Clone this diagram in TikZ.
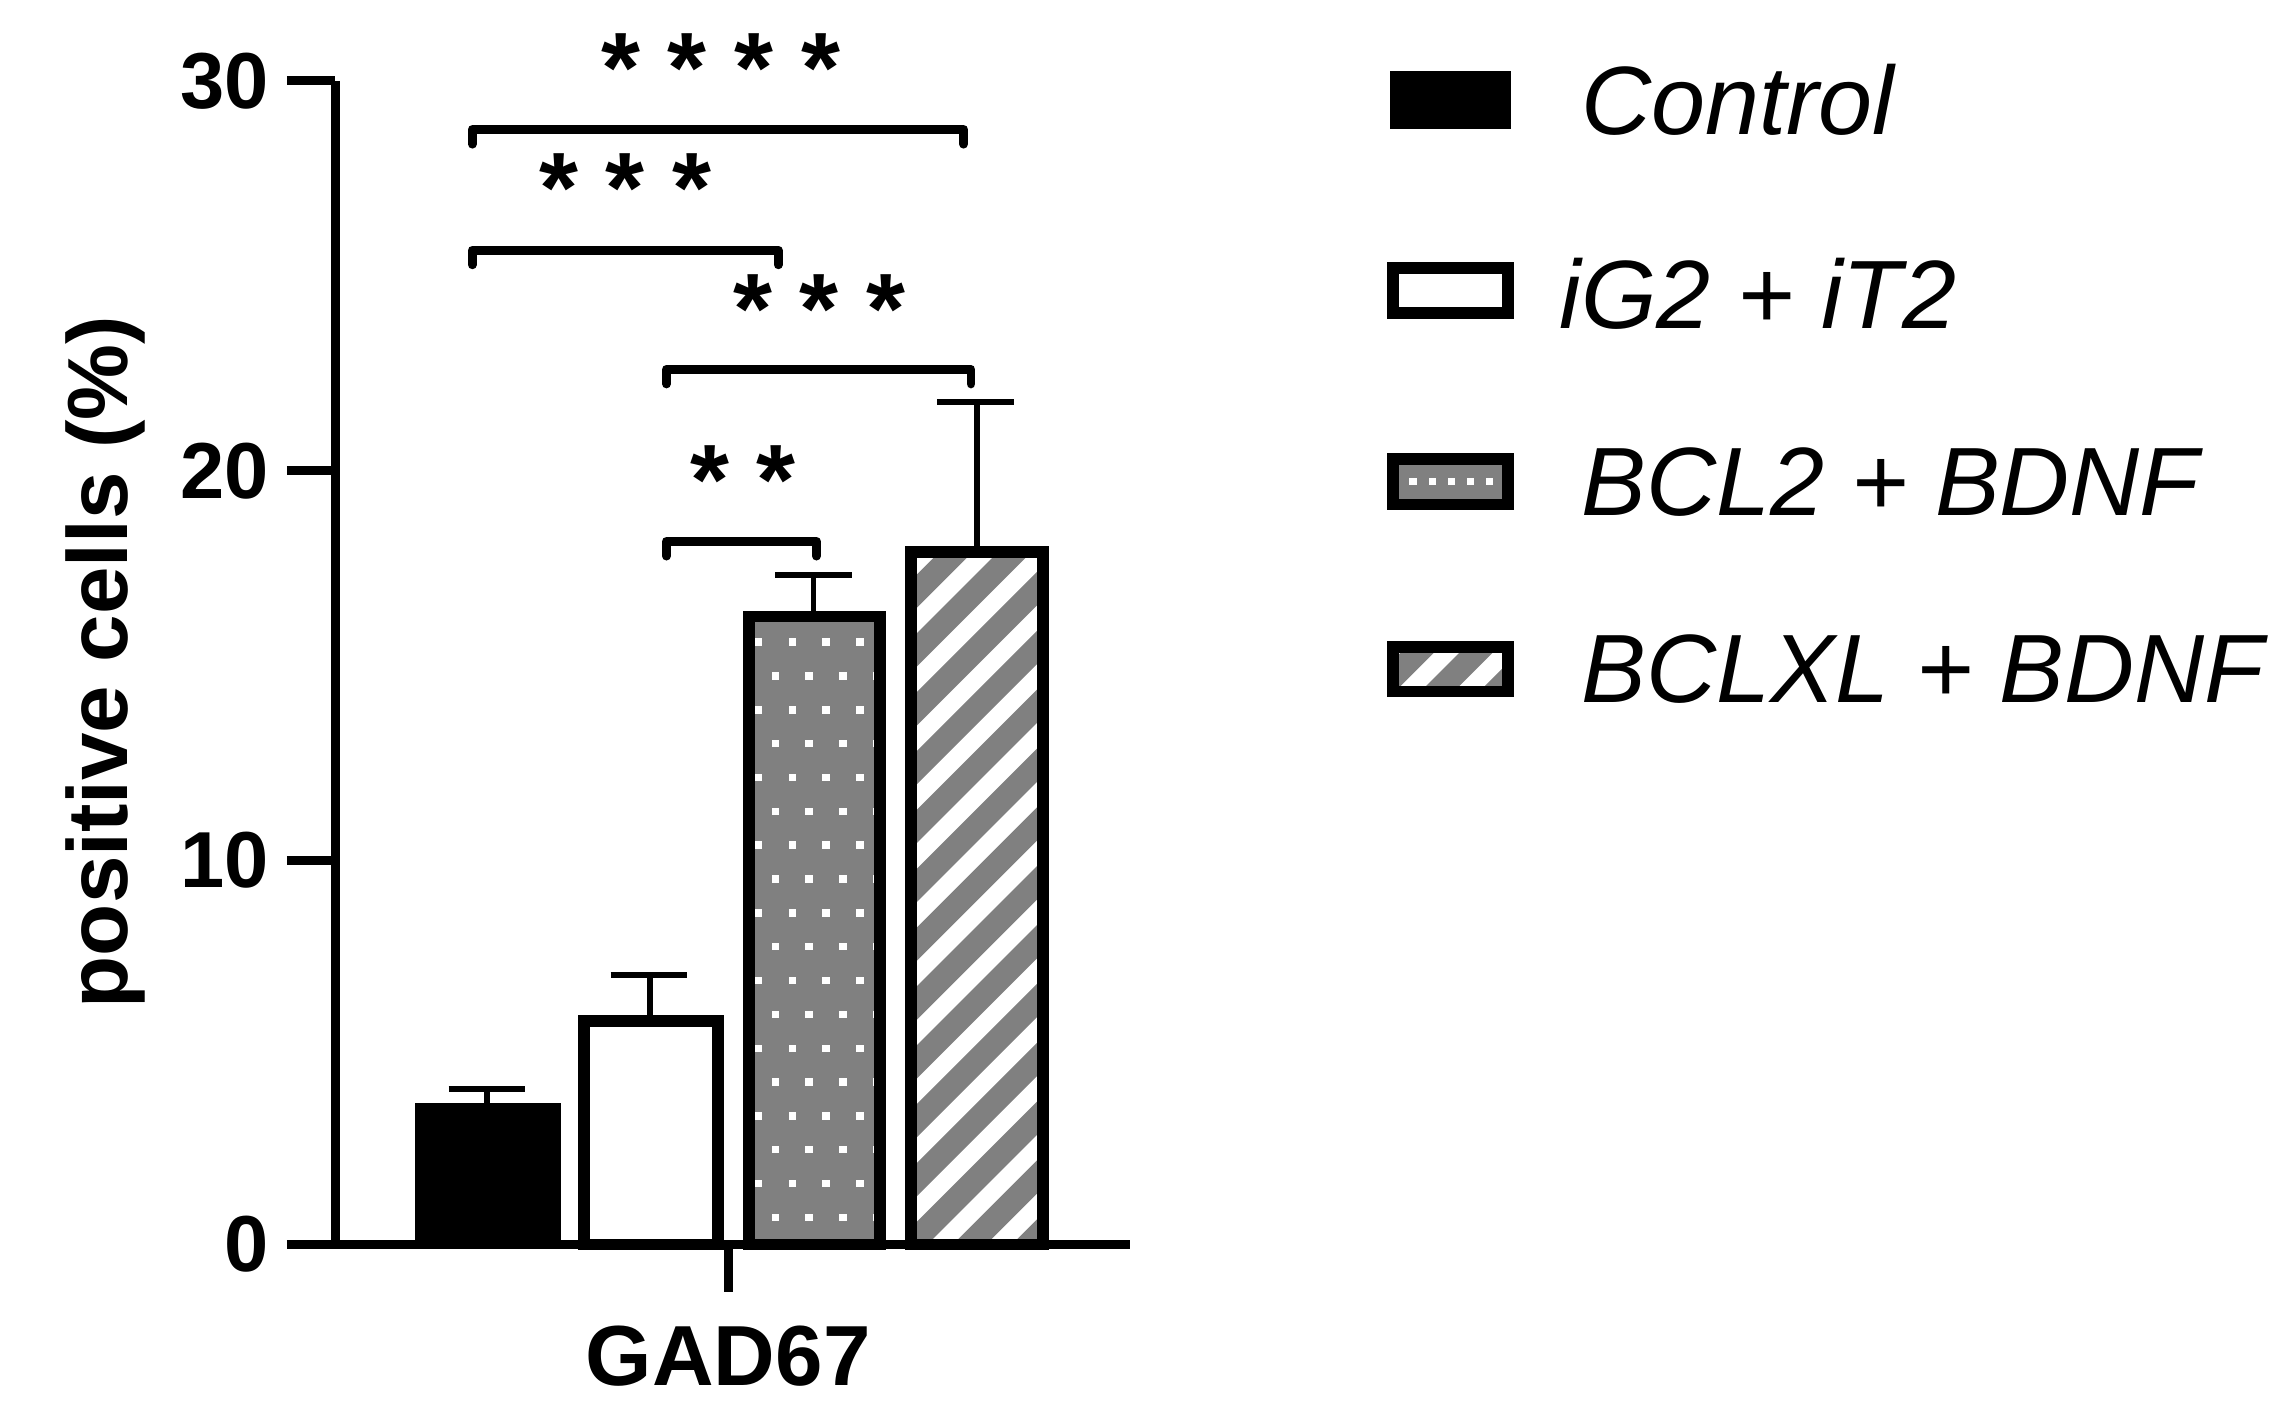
\documentclass[tikz,border=0pt]{standalone}
\usepackage{fontspec}
\setmainfont{Liberation Sans}
\begin{document}
\begin{tikzpicture}[x=0.5pt,y=-0.5pt,
  axis/.style={line width=3pt},
  bar/.style={line width=4pt},
  err/.style={line width=2pt},
  brk/.style={line width=3pt,line cap=round,line join=round},
  ticklab/.style={font=\fontsize{27}{30}\selectfont\bfseries,anchor=east},
  star/.style={font=\fontsize{34}{36}\selectfont\bfseries},
  leg/.style={font=\fontsize{33}{38}\selectfont\itshape,anchor=west}]
\useasboundingbox (0,0) rectangle (1560,962);
% axes
\draw[axis] (228,55) -- (228,846) -- (768,846);
\foreach \y/\l in {55/30,320/20,585/10,846/0}{
  \draw[axis] (195,\y) -- (228,\y);
  \node[ticklab] (t\l) at (190,\y) {\l};
}
\draw[axis] (495,846) -- (495,878);
\node[font=\fontsize{29}{32}\selectfont\bfseries] (cat) at (495,922) {GAD67};
\node[font=\fontsize{29}{32}\selectfont\bfseries,rotate=90] (ylab) at (72,450) {positive cells (\%)};
% error bars
\draw[err] (331,750) -- (331,740) (305,740) -- (357,740);
\draw[err] (442,692) -- (442,663) (415,663) -- (467,663);
\draw[err] (553,415) -- (553,391) (527,391) -- (579,391);
\draw[err] (664,371) -- (664,273) (637,273) -- (689,273);
% bars
\fill (282,750) rectangle (381,846);
\draw[bar,fill=white] (397,694) rectangle (488,846);
\fill[gray] (509,419) rectangle (598,846);
\begin{scope}
\clip (509,419) rectangle (598,846);
\foreach \r in {0,...,18}{
  \pgfmathsetmacro\yy{434+\r*23}
  \pgfmathsetmacro\off{mod(\r,2)*11.5}
  \foreach \c in {0,...,4}{
    \fill[white] ({513+\off+\c*23},\yy) rectangle +(5,5);
  }
}
\end{scope}
\draw[bar] (509,419) rectangle (598,846);
\fill[white] (619,375) rectangle (709,846);
\begin{scope}
\clip (619,375) rectangle (709,846);
\foreach \k in {0,...,16}{
  \draw[gray,line width=8pt] ({619+\k*40-560},{846+40}) -- ++(700,-700);
}
\end{scope}
\draw[bar] (619,375) rectangle (709,846);
% significance brackets
\draw[brk] (321,98) -- (321,88) -- (655,88) -- (655,98);
\node[star] (s1) at (490,46) {* * * *};
\draw[brk] (321,180) -- (321,170) -- (529,170) -- (529,180);
\node[star] (s2) at (425,128) {* * *};
\draw[brk] (453,261) -- (453,251) -- (660,251) -- (660,261);
\node[star] (s3) at (557,210) {* * *};
\draw[brk] (453,378) -- (453,368) -- (555,368) -- (555,378);
\node[star] (s4) at (505,326) {* *};
% legend
\fill (945,48) rectangle (1027,88);
\node[leg] (l1) at (1068,68) {Control};
\draw[bar,fill=white] (947,182) rectangle (1025,213);
\node[leg] (l2) at (1053,200) {iG2 + iT2};
\fill[gray] (947,312) rectangle (1025,343);
\foreach \c in {0,...,4}{\fill[white] ({958+\c*13},325) rectangle +(5,5);}
\draw[bar] (947,312) rectangle (1025,343);
\node[leg] (l3) at (1068,328) {BCL2 + BDNF};
\fill[white] (947,440) rectangle (1025,470);
\begin{scope}
\clip (947,440) rectangle (1025,470);
\foreach \k in {0,...,3}{\draw[gray,line width=8pt] ({947+\k*40-20},480) -- ++(60,-60);}
\end{scope}
\draw[bar] (947,440) rectangle (1025,470);
\node[leg] (l4) at (1068,455) {BCLXL + BDNF};
\end{tikzpicture}
\end{document}
